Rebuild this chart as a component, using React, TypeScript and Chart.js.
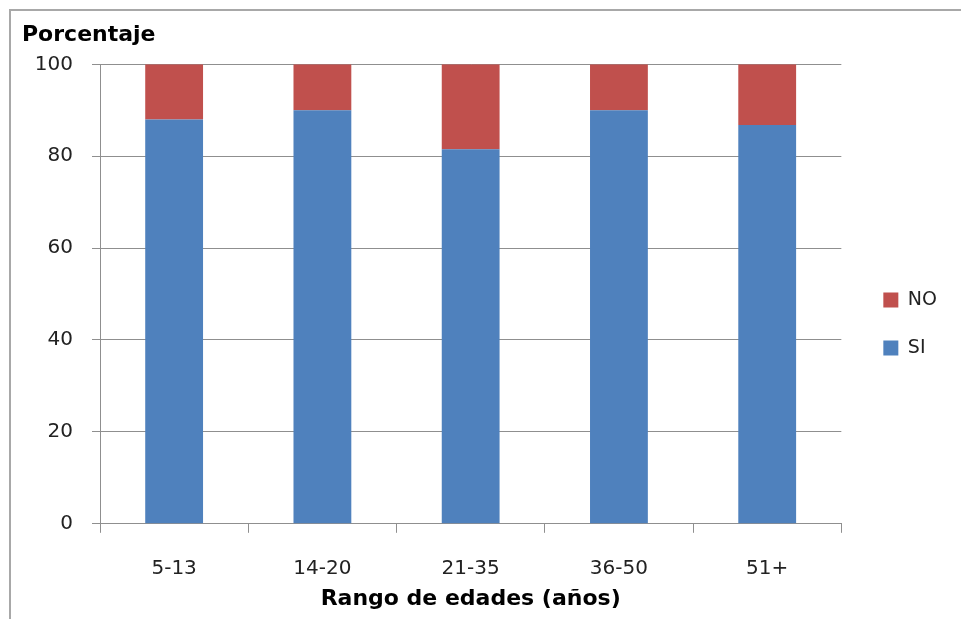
import React, { useEffect, useRef } from "react";
import { Chart, registerables } from "chart.js";

Chart.register(...registerables);

const categories = ["5-13", "14-20", "21-35", "36-50", "51+"];
const siValues = [88, 90, 81.5, 90, 86.8];
const noValues = [12, 10, 18.5, 10, 13.2];
const yTicks = [0, 20, 40, 60, 80, 100];
const seriesNames = ["SI", "NO"];
const seriesColors = ["#4F81BD", "#C0504D"];
const chartTitle = "Porcentaje";
const xTitle = "Rango de edades (años)";

const FONT = "'DejaVu Sans', sans-serif";
const GRID = "#8f8f8f";

export default function App() {
  const ref = useRef<HTMLCanvasElement | null>(null);

  useEffect(() => {
    const canvas = ref.current;
    if (!canvas) return;
    Chart.defaults.font.family = FONT;
    const chart = new Chart(canvas, {
      type: "bar",
      data: {
        labels: categories,
        datasets: [
          {
            label: seriesNames[0],
            data: siValues,
            backgroundColor: seriesColors[0],
            barPercentage: 0.39,
            categoryPercentage: 1,
          },
          {
            label: seriesNames[1],
            data: noValues,
            backgroundColor: seriesColors[1],
            barPercentage: 0.39,
            categoryPercentage: 1,
          },
        ],
      },
      options: {
        responsive: false,
        animation: false,
        devicePixelRatio: 1,
        layout: { padding: { left: 22, right: 14, top: 0, bottom: 6.8 } },
        plugins: {
          title: {
            display: true,
            text: chartTitle,
            align: "start",
            color: "#000",
            font: { family: FONT, size: 22, weight: "bold" },
            padding: { top: 22, bottom: 15.9 },
          },
          legend: {
            position: "right",
            reverse: true,
            title: {
              display: true,
              text: " ",
              font: { family: FONT, size: 10 },
              padding: { top: 24, bottom: 0 },
            },
            labels: {
              boxWidth: 15,
              boxHeight: 15,
              padding: 29,
              color: "#222",
              font: { family: FONT, size: 19 },
            },
          },
          tooltip: { enabled: false },
        },
        scales: {
          x: {
            stacked: true,
            grid: {
              drawOnChartArea: false,
              drawTicks: true,
              tickLength: 9,
              color: GRID,
              offset: true,
            },
            border: { color: GRID },
            ticks: {
              padding: 24,
              color: "#222",
              maxRotation: 0,
              font: { family: FONT, size: 20 },
            },
            title: {
              display: true,
              text: xTitle,
              color: "#000",
              font: { family: FONT, size: 22, weight: "bold" },
              padding: { top: 5, bottom: 0 },
            },
            afterFit: (s: any) => {
              s.height = 88.4;
            },
          },
          y: {
            stacked: true,
            min: 0,
            max: 100,
            afterBuildTicks: (s: any) => {
              s.ticks = yTicks.map((v) => ({ value: v }));
            },
            grid: { color: GRID, tickLength: 8 },
            border: { color: GRID },
            ticks: {
              padding: 19,
              color: "#222",
              font: { family: FONT, size: 20 },
            },
            afterFit: (s: any) => {
              s.width = 78;
            },
          },
          y2: {
            position: "right",
            display: true,
            grid: { display: false },
            border: { display: false },
            ticks: { display: false },
            afterFit: (s: any) => {
              s.width = 13;
            },
          },
        },
      },
    } as any);
    return () => chart.destroy();
  }, []);

  return (
    <>
      <div
        style={{
          position: "fixed",
          left: 9,
          top: 9,
          width: 3000,
          height: 3000,
          borderLeft: "2px solid #a8a8a8",
          borderTop: "2px solid #a8a8a8",
          background: "#fff",
        }}
      />
      <canvas
        ref={ref}
        width={961}
        height={619}
        style={{ position: "fixed", left: 0, top: 0, width: 961, height: 619 }}
      />
    </>
  );
}
